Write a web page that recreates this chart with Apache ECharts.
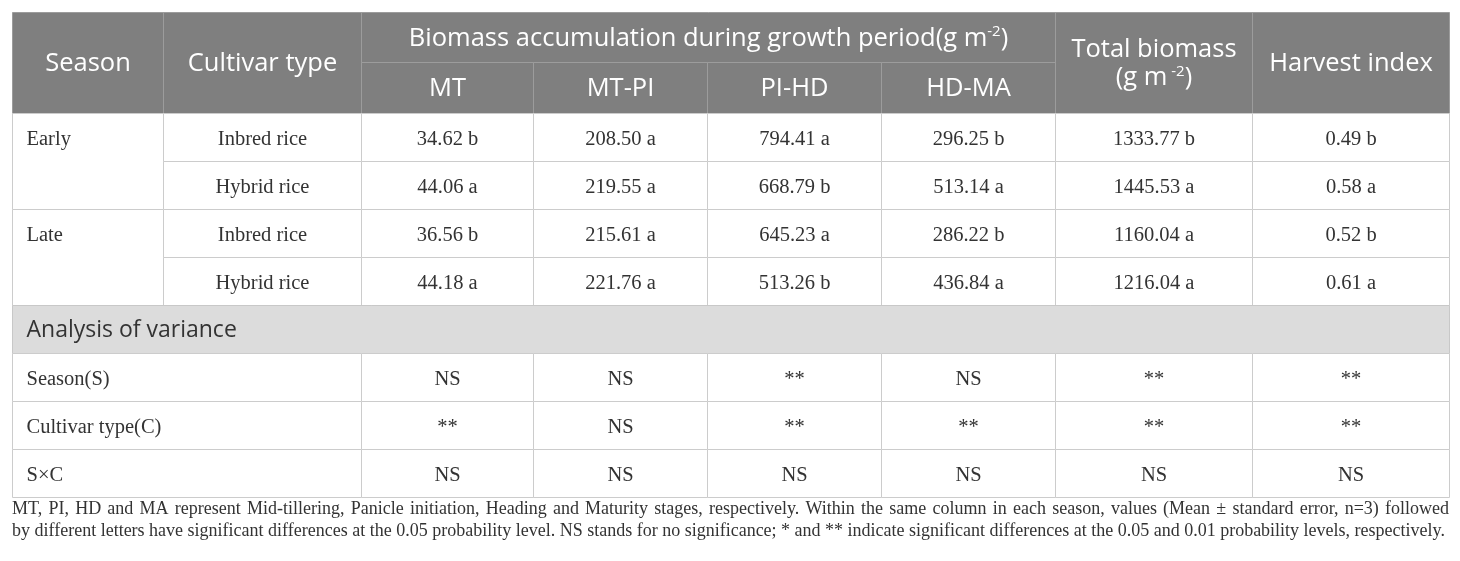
<!DOCTYPE html>
<html>
<head>
<meta charset="utf-8">
<script src="https://cdn.jsdelivr.net/npm/echarts@6/dist/echarts.min.js"></script>
<style>
  html, body { margin: 0; padding: 0; background: #fff; }
  #main { width: 1460px; height: 561px; }
</style>
</head>
<body>
<div id="main"></div>
<script>
// table data
var seasons = ['Early', 'Late'];
var cultivars = ['Inbred rice', 'Hybrid rice'];
var stageLabels = ['MT', 'MT-PI', 'PI-HD', 'HD-MA'];

// rows: Early inbred, Early hybrid, Late inbred, Late hybrid
var mtValues = [34.62, 44.06, 36.56, 44.18];
var mtLetters = ['b', 'a', 'b', 'a'];
var mtPiValues = [208.50, 219.55, 215.61, 221.76];
var mtPiLetters = ['a', 'a', 'a', 'a'];
var piHdValues = [794.41, 668.79, 645.23, 513.26];
var piHdLetters = ['a', 'b', 'a', 'b'];
var hdMaValues = [296.25, 513.14, 286.22, 436.84];
var hdMaLetters = ['b', 'a', 'b', 'a'];
var totalValues = [1333.77, 1445.53, 1160.04, 1216.04];
var totalLetters = ['b', 'a', 'a', 'a'];
var hiValues = [0.49, 0.58, 0.52, 0.61];
var hiLetters = ['b', 'a', 'b', 'a'];

var anovaFactors = ['Season(S)', 'Cultivar type(C)', 'S×C'];
var anovaSeason = ['NS', 'NS', '**', 'NS', '**', '**'];
var anovaCultivar = ['**', 'NS', '**', '**', '**', '**'];
var anovaSxC = ['NS', 'NS', 'NS', 'NS', 'NS', 'NS'];

var footnote = [
  'MT, PI, HD and MA represent Mid-tillering, Panicle initiation, Heading and Maturity stages, respectively. Within the same column in each season, values (Mean ± standard error, n=3) followed',
  'by different letters have significant differences at the 0.05 probability level. NS stands for no significance; * and ** indicate significant differences at the 0.05 and 0.01 probability levels, respectively.'
];

// layout (grid edges on the axes)
var colEdges = [12, 163, 361, 533, 707, 881, 1055, 1252, 1449];
var rowEdges = [12, 62, 113, 161, 209, 257, 305, 353, 401, 449, 497];

var SANS = '"Open Sans", "Noto Sans", sans-serif';
var SERIF = '"Liberation Serif", "DejaVu Serif", serif';

var cells = [];
function cell(c0, c1, r0, r1, text, kind, align, textRows) {
  cells.push({ c0: c0, c1: c1, r0: r0, r1: r1, text: text, kind: kind, align: align || 'center', textRows: textRows });
}

// header
cell(0, 1, 0, 2, 'Season', 'head');
cell(1, 2, 0, 2, 'Cultivar type', 'head');
cell(2, 6, 0, 1, 'Biomass accumulation during growth period(g m{sup|-2})', 'head');
stageLabels.forEach(function (s, i) { cell(2 + i, 3 + i, 1, 2, s, 'head'); });
cell(6, 7, 0, 2, 'Total biomass\n(g m{sup| -2})', 'head');
cell(7, 8, 0, 2, 'Harvest index', 'head');

// body
var valueCols = [
  [mtValues, mtLetters], [mtPiValues, mtPiLetters], [piHdValues, piHdLetters],
  [hdMaValues, hdMaLetters], [totalValues, totalLetters], [hiValues, hiLetters]
];
seasons.forEach(function (s, si) {
  var r = 2 + si * 2;
  cell(0, 1, r, r + 2, s, 'body', 'left', 1);
  cultivars.forEach(function (cv, ci) {
    var row = si * 2 + ci;
    cell(1, 2, r + ci, r + ci + 1, cv, 'body');
    valueCols.forEach(function (vc, k) {
      cell(2 + k, 3 + k, r + ci, r + ci + 1, vc[0][row].toFixed(2) + ' ' + vc[1][row], 'body');
    });
  });
});

cell(0, 8, 6, 7, 'Analysis of variance', 'anova', 'left');
[anovaSeason, anovaCultivar, anovaSxC].forEach(function (vals, j) {
  cell(0, 2, 7 + j, 8 + j, anovaFactors[j], 'body', 'left');
  vals.forEach(function (v, k) { cell(2 + k, 3 + k, 7 + j, 8 + j, v, 'body'); });
});

var styles = {
  head: { fill: '#7f7f7f', stroke: '#9c9c9c', color: '#ffffff', font: SANS, size: 25.5, dy: 1, lh: 28 },
  anova: { fill: '#dcdcdc', stroke: '#c8c8c8', color: '#333333', font: SANS, size: 23, dy: 1, lh: 28 },
  body: { fill: '#ffffff', stroke: '#cccccc', color: '#333333', font: SERIF, size: 20.5, dy: 2, lh: 24 }
};

// footnote: first line justified to the table width, second line plain
var FOOT_FONT = '18px ' + SERIF;
var measure = document.createElement('canvas').getContext('2d');
measure.font = FOOT_FONT;
function justified(line, left, width, top) {
  var words = line.split(' ');
  var total = 0;
  words.forEach(function (w) { total += measure.measureText(w).width; });
  var gap = (width - total) / (words.length - 1);
  var x = left, out = [];
  words.forEach(function (w) {
    out.push({ type: 'text', left: x, top: top, silent: true, style: { text: w, fill: '#333333', font: FOOT_FONT } });
    x += measure.measureText(w).width + gap;
  });
  return out;
}
var footGraphics = justified(footnote[0], 12, 1437, 500).concat([{
  type: 'text', left: 12, top: 522, silent: true,
  style: { text: footnote[1], fill: '#333333', font: FOOT_FONT }
}]);

var chart = echarts.init(document.getElementById('main'));
chart.setOption({
  animation: false,
  grid: { left: 0, right: 0, top: 0, bottom: 0 },
  xAxis: { type: 'value', min: 0, max: 1460, show: false },
  yAxis: { type: 'value', min: 0, max: 561, inverse: true, show: false },
  series: [{
    type: 'custom',
    coordinateSystem: 'cartesian2d',
    silent: true,
    data: cells.map(function (c) {
      return [colEdges[c.c0], rowEdges[c.r0], colEdges[c.c1], rowEdges[c.r1]];
    }),
    renderItem: function (params, api) {
      var c = cells[params.dataIndex];
      var st = styles[c.kind];
      var p0 = api.coord([api.value(0), api.value(1)]);
      var p1 = api.coord([api.value(2), api.value(3)]);
      var x0 = Math.round(p0[0]) + 0.5, y0 = Math.round(p0[1]) + 0.5;
      var x1 = Math.round(p1[0]) + 0.5, y1 = Math.round(p1[1]) + 0.5;
      var ty = c.textRows ? (y0 + (rowEdges[c.r0 + c.textRows] - rowEdges[c.r0]) / 2) : (y0 + y1) / 2;
      var tx = c.align === 'left' ? x0 + 14 : (x0 + x1) / 2;
      return {
        type: 'group',
        children: [{
          type: 'rect',
          shape: { x: x0, y: y0, width: x1 - x0, height: y1 - y0 },
          style: { fill: st.fill, stroke: st.stroke, lineWidth: 1 }
        }, {
          type: 'text',
          style: {
            text: c.text,
            x: tx, y: ty + st.dy,
            align: c.align, verticalAlign: 'middle',
            fill: st.color,
            fontFamily: st.font, fontSize: st.size,
            lineHeight: st.lh,
            rich: {
              sup: { fontFamily: st.font, fontSize: Math.round(st.size * 0.6), fill: st.color, verticalAlign: 'top', lineHeight: st.lh }
            }
          }
        }]
      };
    }
  }],
  graphic: footGraphics
});
</script>
</body>
</html>
